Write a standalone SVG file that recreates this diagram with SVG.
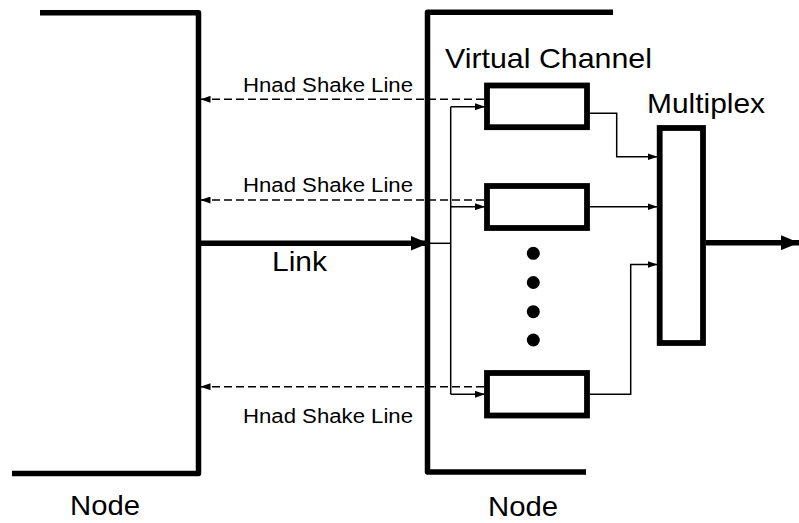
<svg xmlns="http://www.w3.org/2000/svg" width="799" height="523" viewBox="0 0 799 523">
  <style>
    .wall { fill: none; stroke: #000; stroke-width: 5.5; stroke-linejoin: round; }
    .box { fill: #fff; stroke: #000; stroke-width: 5.8; }
    .wire { fill: none; stroke: #000; stroke-width: 1.5; }
    .hs { fill: none; stroke: #000; stroke-width: 1.5; stroke-dasharray: 8 4; }
    .thick { fill: none; stroke: #000; stroke-width: 5.5; }
    .big { font-family: "Liberation Sans", Arial, sans-serif; font-size: 28px; fill: #000; }
    .small { font-family: "Liberation Sans", Arial, sans-serif; font-size: 20px; fill: #000; }
  </style>
  <defs>
    <marker id="ah" markerUnits="userSpaceOnUse" markerWidth="10" markerHeight="7" refX="10" refY="3.5" orient="auto">
      <path d="M0,0 L10,3.5 L0,7 z" fill="#000"/>
    </marker>
    <marker id="ahBig" markerUnits="userSpaceOnUse" markerWidth="18" markerHeight="15" refX="18" refY="7.5" orient="auto">
      <path d="M0,0 L18,7.5 L0,15 z" fill="#000"/>
    </marker>
  </defs>

  <!-- sending node -->
  <g id="node-left">
    <path class="wall" d="M40,12.7 H198.5 V473.5 H12"/>
    <text class="big" x="70" y="515" textLength="70" lengthAdjust="spacingAndGlyphs">Node</text>
  </g>

  <!-- receiving node -->
  <g id="node-right">
    <path class="wall" d="M613,12.2 H427.5 V472 H586"/>
    <text class="big" x="488" y="516" textLength="70" lengthAdjust="spacingAndGlyphs">Node</text>
    <text class="big" x="445" y="67.5" textLength="207" lengthAdjust="spacingAndGlyphs">Virtual Channel</text>
  </g>

  <!-- virtual channel buffers -->
  <g id="vc-1"><rect class="box" x="487" y="85.5" width="100" height="41.7"/></g>
  <g id="vc-2"><rect class="box" x="487" y="186" width="100" height="42"/></g>
  <g id="vc-n"><rect class="box" x="487" y="373" width="100" height="42.5"/></g>

  <!-- elided channels -->
  <g id="ellipsis">
    <circle cx="533.3" cy="253.3" r="6.5"/>
    <circle cx="533.3" cy="282.5" r="6.5"/>
    <circle cx="533.3" cy="311.7" r="6.5"/>
    <circle cx="533.3" cy="340" r="6.5"/>
  </g>

  <!-- multiplexer -->
  <g id="multiplex">
    <rect class="box" x="659.7" y="128" width="43.3" height="215"/>
    <text class="big" x="647" y="112.5" textLength="118" lengthAdjust="spacingAndGlyphs">Multiplex</text>
  </g>

  <g id="connectors">
    <!-- physical link -->
    <line class="thick" x1="198.5" y1="243.3" x2="428.5" y2="243.3" marker-end="url(#ahBig)"/>
    <text class="big" x="272" y="270.5" textLength="55" lengthAdjust="spacingAndGlyphs">Link</text>

    <!-- demultiplexing bus -->
    <path class="wire" d="M428,243.3 H450.7"/>
    <path class="wire" d="M450.7,106.7 V394.3"/>
    <line class="wire" x1="450.7" y1="106.7" x2="485" y2="106.7" marker-end="url(#ah)"/>
    <line class="wire" x1="450.7" y1="206.7" x2="485" y2="206.7" marker-end="url(#ah)"/>
    <line class="wire" x1="450.7" y1="394.3" x2="485" y2="394.3" marker-end="url(#ah)"/>

    <!-- handshake lines back to the sender -->
    <line class="hs" x1="484" y1="99.3" x2="200.5" y2="99.3" marker-end="url(#ah)"/>
    <line class="hs" x1="484" y1="200" x2="200.5" y2="200" marker-end="url(#ah)"/>
    <line class="hs" x1="484" y1="386.7" x2="200.5" y2="386.7" marker-end="url(#ah)"/>
    <text class="small" x="243" y="91.7" textLength="170" lengthAdjust="spacingAndGlyphs">Hnad Shake Line</text>
    <text class="small" x="243" y="192.3" textLength="170" lengthAdjust="spacingAndGlyphs">Hnad Shake Line</text>
    <text class="small" x="243" y="422.5" textLength="170" lengthAdjust="spacingAndGlyphs">Hnad Shake Line</text>

    <!-- buffers into the multiplexer -->
    <path class="wire" d="M590,113.3 H616.7 V156.7 H657.5" marker-end="url(#ah)"/>
    <path class="wire" d="M590,206.7 H657.5" marker-end="url(#ah)"/>
    <path class="wire" d="M590,394.3 H630.7 V264.5 H657.5" marker-end="url(#ah)"/>

    <!-- multiplexer output -->
    <line class="thick" x1="706" y1="242.7" x2="799" y2="242.7" marker-end="url(#ahBig)"/>
  </g>
</svg>
